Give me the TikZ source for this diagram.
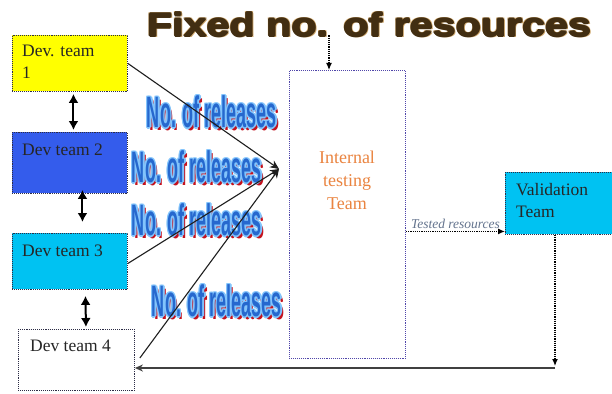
\documentclass[tikz,border=0pt]{standalone}
\usepackage{fontspec}
\usepackage{graphicx}
\setmainfont{Liberation Serif}
\newfontfamily\headfont{Liberation Sans}
\usetikzlibrary{arrows.meta}

\definecolor{devyellow}{RGB}{255,255,0}
\definecolor{devblue}{RGB}{52,92,236}
\definecolor{devcyan}{RGB}{0,194,242}
\definecolor{boxline}{RGB}{45,45,70}
\definecolor{testline}{RGB}{80,70,170}
\definecolor{testtext}{RGB}{234,132,64}
\definecolor{relblue}{RGB}{38,104,206}
\definecolor{relglow}{RGB}{130,196,252}
\definecolor{relred}{RGB}{196,18,30}
\definecolor{titlebrown}{RGB}{66,46,18}
\definecolor{titletan}{RGB}{205,165,105}
\definecolor{testedgrey}{RGB}{100,116,142}
\definecolor{flowline}{RGB}{30,30,30}

% the label text shared by the four release annotations
\newcommand\reltext{\scalebox{0.41}[1]{No. of releases}}
\newcommand\titletext{\scalebox{1.25}[1]{Fixed no. of resources}}

\begin{document}
\begin{tikzpicture}[x=1pt,y=-1pt,
  teambox/.style={draw=boxline, densely dotted, line width=0.9pt,
    anchor=north west, inner sep=0pt},
  teamtext/.style={anchor=north west, align=left, inner sep=0pt,
    font=\fontsize{17.5}{22}\selectfont, text=black!85},
  relfont/.style={inner sep=0pt, font=\headfont\bfseries\fontsize{44}{44}\selectfont},
  titlefont/.style={inner sep=0pt, font=\headfont\bfseries\fontsize{33}{33}\selectfont},
  dblarrow/.style={{Latex[length=9pt,width=10pt]}-{Latex[length=9pt,width=10pt]}, line width=2pt},
  feed/.style={flowline, line width=1.1pt, -{Stealth[length=9pt,width=8pt]}},
  dotflow/.style={black, densely dotted, line width=1.2pt, -{Latex[length=7pt,width=6pt]}},
]
\useasboundingbox (0,0) rectangle (612,393);
\fill[white] (0,0) rectangle (612,393);

% title with a mottled brown look
\foreach \dx/\dy in {1.6/-1.2,-1.2/1.2,1.2/1.4}
  \node[titlefont, text=titletan, xshift=\dx pt, yshift=\dy pt] at (369,25) {\titletext};
\foreach \dx/\dy in {0.9/0,-0.9/0,0/0.9,0/-0.9}
  \node[titlefont, text=titlebrown, xshift=\dx pt, yshift=\dy pt] at (369,25) {\titletext};
\node[titlefont, text=titlebrown] (title) at (369,25) {\titletext};

% development teams
\node[teambox, fill=devyellow, minimum width=115pt, minimum height=56pt] (dev1) at (12,35) {};
\node[teambox, fill=devblue, minimum width=115pt, minimum height=61pt] (dev2) at (12,132) {};
\node[teambox, fill=devcyan, minimum width=115pt, minimum height=56pt] (dev3) at (12,233) {};
\node[teambox, fill=white, minimum width=116pt, minimum height=61pt] (dev4) at (18,329) {};

\node[teamtext] (dev1t) at ([xshift=10pt,yshift=-10pt]dev1.north west) {Dev. team\\1};
\node[teamtext] (dev2t) at ([xshift=10pt,yshift=-12pt]dev2.north west) {Dev team 2};
\node[teamtext] (dev3t) at ([xshift=10pt,yshift=-12pt]dev3.north west) {Dev team 3};
\node[teamtext] (dev4t) at ([xshift=12pt,yshift=-11pt]dev4.north west) {Dev team 4};

% links between neighbouring teams
\draw[dblarrow] ([xshift=3.5pt,yshift=-2pt]dev1.south) -- ([xshift=3.5pt,yshift=2pt]dev2.north);
\draw[dblarrow] ([xshift=12.5pt,yshift=4pt]dev2.south) -- ([xshift=12.5pt,yshift=11pt]dev3.north);
\draw[dblarrow] ([xshift=15.5pt,yshift=-6pt]dev3.south) -- ([xshift=9.5pt,yshift=2pt]dev4.north);

% testing and validation teams
\node[teambox, draw=testline, fill=white, minimum width=116pt, minimum height=288pt] (test) at (289,70) {};
\node[align=center, inner sep=0pt, text=testtext, font=\fontsize{18}{23}\selectfont]
  (testt) at (347,180) {Internal\\testing\\Team};
\node[teambox, fill=devcyan, minimum width=110pt, minimum height=62pt] (valid) at (505,172) {};
\node[teamtext] (validt) at ([xshift=11pt,yshift=-11pt]valid.north west) {Validation\\Team};

% release annotations: red drop shadow, pale halo, blue letters
\foreach \name/\pos in {rel1/{(212,112)}, rel2/{(197,167)}, rel3/{(197,220)}, rel4/{(217,301)}}{
  \node[relfont, text=relred, xshift=2.5pt, yshift=-3pt] at \pos {\reltext};
  \foreach \dx/\dy in {1.3/0,-1.3/0,0/1.3,0/-1.3,1/1,-1/-1,1/-1,-1/1}
    \node[relfont, text=relglow, xshift=\dx pt, yshift=\dy pt] at \pos {\reltext};
  \node[relfont, text=relblue] (\name) at \pos {\reltext};
}

% releases flowing into testing
\coordinate (hub) at (279,169);
\draw[feed] (dev1.east) -- (hub);
\draw[feed] ([yshift=-2pt]dev3.east) -- (hub);
\draw[feed] ([xshift=5pt,yshift=2pt]dev4.east) -- (hub);

% fixed resources into testing
\coordinate (fixedout) at ([xshift=-40pt,yshift=2pt]title.south);
\draw[dotflow] (fixedout) -- (fixedout |- test.north);

% tested resources to validation
\draw[dotflow] ([yshift=-17pt]test.east) -- ([yshift=-17pt]test.east -| valid.west)
  node[midway, above=2pt, inner sep=0pt, text=testedgrey, font=\itshape\fontsize{13.5}{13.5}\selectfont] (testedlbl) {Tested resources};

% feedback from validation back to the last team
\coordinate (corner) at (555,368);
\draw[dotflow] (corner |- valid.south) -- ([yshift=2pt]corner);
\draw[flowline!85, line width=1.3pt, -{Stealth[length=8pt,width=7pt]}] (corner) -- (corner -| dev4.east);
\end{tikzpicture}
\end{document}
